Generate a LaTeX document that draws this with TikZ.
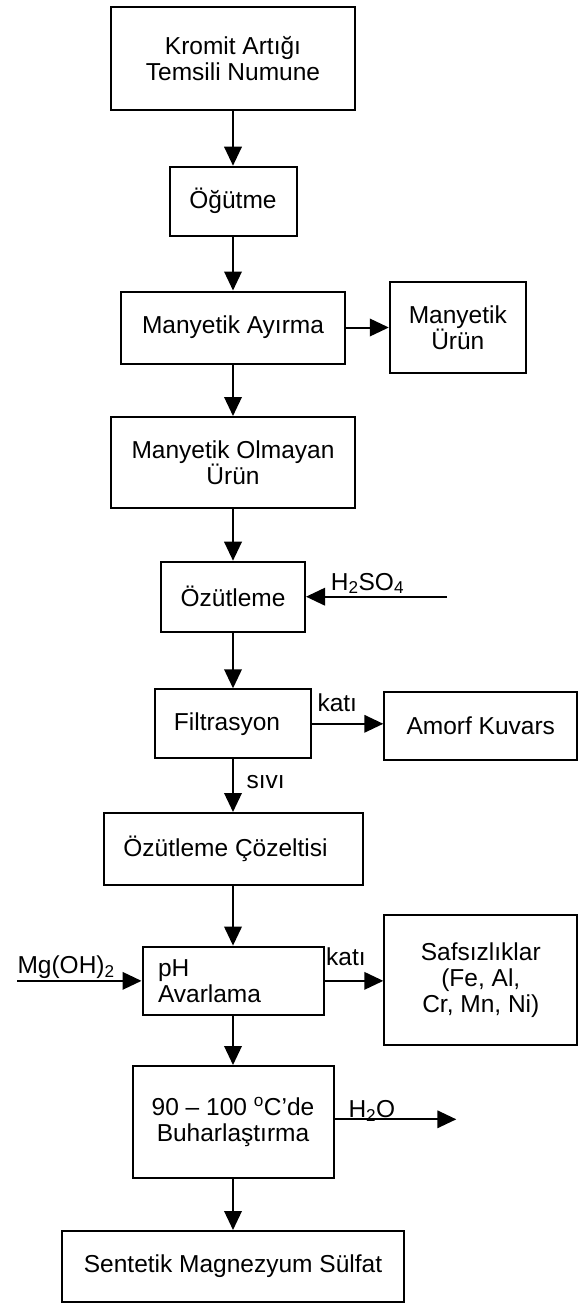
\documentclass[tikz,border=0pt]{standalone}
\usepackage{fontspec}
\setmainfont{Liberation Sans}
\usetikzlibrary{arrows.meta}
\begin{document}
\begin{tikzpicture}[x = 1pt, y = -1pt,
box/.style={draw, line width = 2pt, inner sep = 0pt, align = center, font = \fontsize{24.5}{26}\selectfont},
lbl/.style={inner sep = 0pt, font = \fontsize{24.5}{26}\selectfont},
arr/.style={line width = 2pt, -{Triangle[length = 19pt, width = 17.5pt]}}]
\useasboundingbox (0,0) rectangle (580,1304);
\node[box, minimum width = 244pt, minimum height = 103pt] (kromit) at (233, 58.5) {Kromit Artığı\\Temsili Numune};
\node[box, minimum width = 127pt, minimum height = 69pt] (ogutme) at (233, 201.2) {Öğütme};
\node[box, minimum width = 224pt, minimum height = 72pt] (ayirma) at (233, 327.5) {Manyetik Ayırma};
\node[box, minimum width = 136pt, minimum height = 91pt] (murun) at (457.8, 327.5) {Manyetik\\Ürün};
\node[box, minimum width = 244pt, minimum height = 91pt] (olmayan) at (233, 462.5) {Manyetik Olmayan\\Ürün};
\node[box, minimum width = 144pt, minimum height = 70pt] (ozut) at (233, 596.7) {Özütleme};
\node[box, minimum width = 156pt, minimum height = 69pt] (filtre) at (233, 723.8) {\hspace*{-12pt}Filtrasyon};
\node[box, minimum width = 193pt, minimum height = 68pt] (amorf) at (480.8, 726) {Amorf Kuvars};
\node[box, minimum width = 259pt, minimum height = 72pt] (cozelti) at (233, 849) {\hspace*{-15pt}Özütleme Çözeltisi};
\node[box, minimum width = 181pt, minimum height = 68.5pt, text width = 150pt, align = left] (ph) at (233, 980.85) {pH\\Avarlama};
\node[box, minimum width = 193pt, minimum height = 130pt] (safsiz) at (480.8, 979.85) {Safsızlıklar\\(Fe, Al,\\Cr, Mn, Ni)};
\node[box, minimum width = 201pt, minimum height = 112pt] (buhar) at (233, 1122) {90 -- 100 \textsuperscript{o}C’de\\Buharlaştırma};
\node[box, minimum width = 342pt, minimum height = 71pt] (sentetik) at (233, 1266.5) {Sentetik Magnezyum Sülfat};
\coordinate (acid) at (447, 596.7);
\coordinate (mg) at (17.3, 980.85);
\coordinate (water) at (456.3, 1119.3);
\node[lbl, anchor = base west] (acidlbl) at (330.7, 590) {H\textsubscript{2}SO\textsubscript{4}};
\node[lbl, anchor = base west] (kati1) at (317.3, 711.7) {katı};
\node[lbl, anchor = base west] (sivi) at (246.3, 788) {sıvı};
\node[lbl, anchor = base west] (mglbl) at (17.3, 973.3) {Mg(OH)\textsubscript{2}};
\node[lbl, anchor = base west] (kati2) at (326, 965) {katı};
\node[lbl, anchor = base west] (waterlbl) at (348.3, 1117.3) {H\textsubscript{2}O};
\draw[arr] (kromit) -- (ogutme);
\draw[arr] (ogutme) -- (ayirma);
\draw[arr] (ayirma) -- (murun);
\draw[arr] (ayirma) -- (olmayan);
\draw[arr] (olmayan) -- (ozut);
\draw[arr] (acid) -- (ozut);
\draw[arr] (ozut) -- (filtre);
\draw[arr] (filtre) -- (filtre -| amorf.west);
\draw[arr] (filtre) -- (cozelti);
\draw[arr] (cozelti) -- (ph);
\draw[arr] (mg) -- (ph);
\draw[arr] (ph) -- (ph -| safsiz.west);
\draw[arr] (ph) -- (buhar);
\draw[arr] (buhar.east |- water) -- (water);
\draw[arr] (buhar) -- (sentetik);
\end{tikzpicture}
\end{document}
